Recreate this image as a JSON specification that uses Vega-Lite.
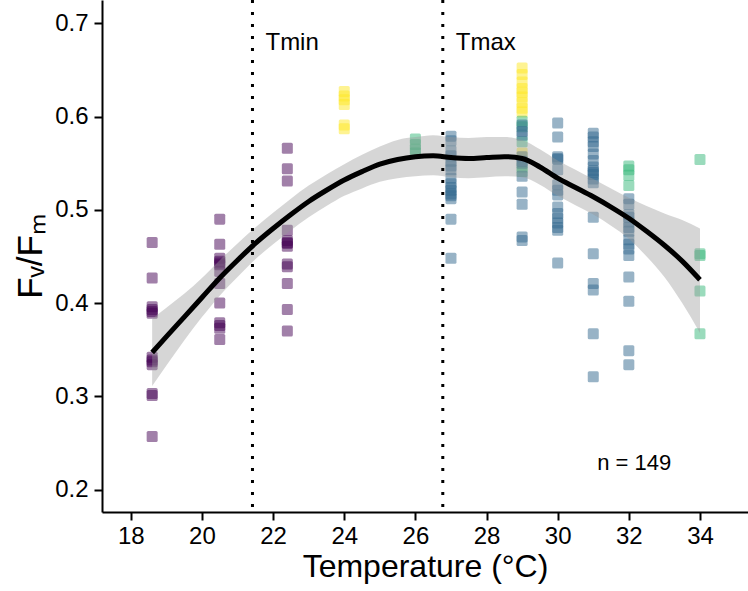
{
  "$schema": "https://vega.github.io/schema/vega-lite/v6.json",
  "width": 646,
  "height": 512,
  "autosize": "none",
  "padding": {"left": 102, "top": 0, "right": 0, "bottom": 79},
  "background": "white",
  "config": {
    "view": {"stroke": null},
    "font": "Liberation Sans",
    "axis": {
      "grid": false,
      "domainColor": "black",
      "domainWidth": 2,
      "tickColor": "black",
      "tickWidth": 2,
      "tickSize": 8,
      "labelColor": "black",
      "labelFont": "Liberation Sans",
      "labelFontSize": 24,
      "titleFont": "Liberation Sans",
      "titleFontSize": 32,
      "titleFontWeight": "normal",
      "titleColor": "black"
    }
  },
  "datasets": {
    "pts": [
      {"t": 18.6, "fvfm": 0.465, "g": "A"}, {"t": 18.6, "fvfm": 0.427, "g": "A"}, {"t": 18.6, "fvfm": 0.396, "g": "A"}, {"t": 18.6, "fvfm": 0.393, "g": "A"}, {"t": 18.6, "fvfm": 0.391, "g": "A"}, {"t": 18.6, "fvfm": 0.389, "g": "A"}, {"t": 18.6, "fvfm": 0.342, "g": "A"}, {"t": 18.6, "fvfm": 0.339, "g": "A"}, {"t": 18.6, "fvfm": 0.337, "g": "A"}, {"t": 18.6, "fvfm": 0.334, "g": "A"}, {"t": 18.6, "fvfm": 0.303, "g": "A"}, {"t": 18.6, "fvfm": 0.301, "g": "A"}, {"t": 18.6, "fvfm": 0.257, "g": "A"},
      {"t": 20.5, "fvfm": 0.490, "g": "A"}, {"t": 20.5, "fvfm": 0.463, "g": "A"}, {"t": 20.5, "fvfm": 0.448, "g": "A"}, {"t": 20.5, "fvfm": 0.445, "g": "A"}, {"t": 20.5, "fvfm": 0.443, "g": "A"}, {"t": 20.5, "fvfm": 0.441, "g": "A"}, {"t": 20.5, "fvfm": 0.434, "g": "A"}, {"t": 20.5, "fvfm": 0.421, "g": "A"}, {"t": 20.5, "fvfm": 0.400, "g": "A"}, {"t": 20.5, "fvfm": 0.379, "g": "A"}, {"t": 20.5, "fvfm": 0.376, "g": "A"}, {"t": 20.5, "fvfm": 0.373, "g": "A"}, {"t": 20.5, "fvfm": 0.361, "g": "A"},
      {"t": 22.4, "fvfm": 0.566, "g": "A"}, {"t": 22.4, "fvfm": 0.544, "g": "A"}, {"t": 22.4, "fvfm": 0.531, "g": "A"}, {"t": 22.4, "fvfm": 0.478, "g": "A"}, {"t": 22.4, "fvfm": 0.467, "g": "A"}, {"t": 22.4, "fvfm": 0.465, "g": "A"}, {"t": 22.4, "fvfm": 0.464, "g": "A"}, {"t": 22.4, "fvfm": 0.461, "g": "A"}, {"t": 22.4, "fvfm": 0.442, "g": "A"}, {"t": 22.4, "fvfm": 0.439, "g": "A"}, {"t": 22.4, "fvfm": 0.421, "g": "A"}, {"t": 22.4, "fvfm": 0.393, "g": "A"}, {"t": 22.4, "fvfm": 0.370, "g": "A"},
      {"t": 24, "fvfm": 0.627, "g": "D"}, {"t": 24, "fvfm": 0.622, "g": "D"}, {"t": 24, "fvfm": 0.618, "g": "D"}, {"t": 24, "fvfm": 0.613, "g": "D"}, {"t": 24, "fvfm": 0.591, "g": "D"}, {"t": 24, "fvfm": 0.587, "g": "D"},
      {"t": 26, "fvfm": 0.576, "g": "C"}, {"t": 26, "fvfm": 0.570, "g": "C"}, {"t": 26, "fvfm": 0.565, "g": "C"}, {"t": 26, "fvfm": 0.561, "g": "C"},
      {"t": 27, "fvfm": 0.579, "g": "B"}, {"t": 27, "fvfm": 0.574, "g": "B"}, {"t": 27, "fvfm": 0.563, "g": "B"}, {"t": 27, "fvfm": 0.558, "g": "B"}, {"t": 27, "fvfm": 0.552, "g": "B"}, {"t": 27, "fvfm": 0.547, "g": "B"}, {"t": 27, "fvfm": 0.543, "g": "B"}, {"t": 27, "fvfm": 0.534, "g": "B"}, {"t": 27, "fvfm": 0.528, "g": "B"}, {"t": 27, "fvfm": 0.524, "g": "B"}, {"t": 27, "fvfm": 0.521, "g": "B"}, {"t": 27, "fvfm": 0.517, "g": "B"}, {"t": 27, "fvfm": 0.515, "g": "B"}, {"t": 27, "fvfm": 0.512, "g": "B"}, {"t": 27, "fvfm": 0.490, "g": "B"}, {"t": 27, "fvfm": 0.448, "g": "B"},
      {"t": 29, "fvfm": 0.652, "g": "D"}, {"t": 29, "fvfm": 0.645, "g": "D"}, {"t": 29, "fvfm": 0.637, "g": "D"}, {"t": 29, "fvfm": 0.630, "g": "D"}, {"t": 29, "fvfm": 0.626, "g": "D"}, {"t": 29, "fvfm": 0.621, "g": "D"}, {"t": 29, "fvfm": 0.615, "g": "D"}, {"t": 29, "fvfm": 0.609, "g": "D"}, {"t": 29, "fvfm": 0.605, "g": "D"}, {"t": 29, "fvfm": 0.561, "g": "D"},
      {"t": 29, "fvfm": 0.595, "g": "C"}, {"t": 29, "fvfm": 0.589, "g": "C"}, {"t": 29, "fvfm": 0.573, "g": "C"}, {"t": 29, "fvfm": 0.546, "g": "C"}, {"t": 29, "fvfm": 0.541, "g": "C"},
      {"t": 29, "fvfm": 0.591, "g": "B"}, {"t": 29, "fvfm": 0.584, "g": "B"}, {"t": 29, "fvfm": 0.580, "g": "B"}, {"t": 29, "fvfm": 0.557, "g": "B"}, {"t": 29, "fvfm": 0.552, "g": "B"}, {"t": 29, "fvfm": 0.550, "g": "B"}, {"t": 29, "fvfm": 0.536, "g": "B"}, {"t": 29, "fvfm": 0.519, "g": "B"}, {"t": 29, "fvfm": 0.506, "g": "B"}, {"t": 29, "fvfm": 0.471, "g": "B"}, {"t": 29, "fvfm": 0.467, "g": "B"},
      {"t": 30, "fvfm": 0.593, "g": "B"}, {"t": 30, "fvfm": 0.578, "g": "B"}, {"t": 30, "fvfm": 0.557, "g": "B"}, {"t": 30, "fvfm": 0.555, "g": "B"}, {"t": 30, "fvfm": 0.554, "g": "B"}, {"t": 30, "fvfm": 0.543, "g": "B"}, {"t": 30, "fvfm": 0.527, "g": "B"}, {"t": 30, "fvfm": 0.521, "g": "B"}, {"t": 30, "fvfm": 0.516, "g": "B"}, {"t": 30, "fvfm": 0.503, "g": "B"}, {"t": 30, "fvfm": 0.496, "g": "B"}, {"t": 30, "fvfm": 0.491, "g": "B"}, {"t": 30, "fvfm": 0.486, "g": "B"}, {"t": 30, "fvfm": 0.481, "g": "B"}, {"t": 30, "fvfm": 0.478, "g": "B"}, {"t": 30, "fvfm": 0.443, "g": "B"},
      {"t": 31, "fvfm": 0.582, "g": "B"}, {"t": 31, "fvfm": 0.578, "g": "B"}, {"t": 31, "fvfm": 0.573, "g": "B"}, {"t": 31, "fvfm": 0.568, "g": "B"}, {"t": 31, "fvfm": 0.560, "g": "B"}, {"t": 31, "fvfm": 0.553, "g": "B"}, {"t": 31, "fvfm": 0.546, "g": "B"}, {"t": 31, "fvfm": 0.542, "g": "B"}, {"t": 31, "fvfm": 0.540, "g": "B"}, {"t": 31, "fvfm": 0.538, "g": "B"}, {"t": 31, "fvfm": 0.533, "g": "B"}, {"t": 31, "fvfm": 0.529, "g": "B"}, {"t": 31, "fvfm": 0.492, "g": "B"}, {"t": 31, "fvfm": 0.453, "g": "B"}, {"t": 31, "fvfm": 0.421, "g": "B"}, {"t": 31, "fvfm": 0.414, "g": "B"}, {"t": 31, "fvfm": 0.367, "g": "B"}, {"t": 31, "fvfm": 0.321, "g": "B"},
      {"t": 32, "fvfm": 0.547, "g": "C"}, {"t": 32, "fvfm": 0.543, "g": "C"}, {"t": 32, "fvfm": 0.537, "g": "C"}, {"t": 32, "fvfm": 0.526, "g": "C"},
      {"t": 32, "fvfm": 0.512, "g": "B"}, {"t": 32, "fvfm": 0.506, "g": "B"}, {"t": 32, "fvfm": 0.495, "g": "B"}, {"t": 32, "fvfm": 0.492, "g": "B"}, {"t": 32, "fvfm": 0.487, "g": "B"}, {"t": 32, "fvfm": 0.481, "g": "B"}, {"t": 32, "fvfm": 0.477, "g": "B"}, {"t": 32, "fvfm": 0.468, "g": "B"}, {"t": 32, "fvfm": 0.463, "g": "B"}, {"t": 32, "fvfm": 0.458, "g": "B"}, {"t": 32, "fvfm": 0.451, "g": "B"}, {"t": 32, "fvfm": 0.428, "g": "B"}, {"t": 32, "fvfm": 0.402, "g": "B"}, {"t": 32, "fvfm": 0.349, "g": "B"}, {"t": 32, "fvfm": 0.334, "g": "B"},
      {"t": 34, "fvfm": 0.554, "g": "C"}, {"t": 34, "fvfm": 0.453, "g": "C"}, {"t": 34, "fvfm": 0.451, "g": "C"}, {"t": 34, "fvfm": 0.413, "g": "C"}, {"t": 34, "fvfm": 0.367, "g": "C"}
    ],
    "fit": [
      {"t": 18.6, "fit": 0.347, "lo": 0.311, "hi": 0.383},
      {"t": 19.0, "fit": 0.364, "lo": 0.333, "hi": 0.395},
      {"t": 19.5, "fit": 0.385, "lo": 0.360, "hi": 0.410},
      {"t": 20.0, "fit": 0.406, "lo": 0.385, "hi": 0.427},
      {"t": 20.5, "fit": 0.427, "lo": 0.408, "hi": 0.446},
      {"t": 21.0, "fit": 0.446, "lo": 0.428, "hi": 0.464},
      {"t": 21.5, "fit": 0.464, "lo": 0.447, "hi": 0.481},
      {"t": 22.0, "fit": 0.480, "lo": 0.463, "hi": 0.497},
      {"t": 22.5, "fit": 0.495, "lo": 0.478, "hi": 0.512},
      {"t": 23.0, "fit": 0.509, "lo": 0.492, "hi": 0.526},
      {"t": 23.5, "fit": 0.521, "lo": 0.504, "hi": 0.538},
      {"t": 24.0, "fit": 0.532, "lo": 0.515, "hi": 0.549},
      {"t": 24.5, "fit": 0.541, "lo": 0.523, "hi": 0.559},
      {"t": 25.0, "fit": 0.549, "lo": 0.530, "hi": 0.568},
      {"t": 25.5, "fit": 0.554, "lo": 0.534, "hi": 0.575},
      {"t": 26.0, "fit": 0.557, "lo": 0.536, "hi": 0.578},
      {"t": 26.5, "fit": 0.558, "lo": 0.537, "hi": 0.580},
      {"t": 27.0, "fit": 0.556, "lo": 0.535, "hi": 0.578},
      {"t": 27.5, "fit": 0.555, "lo": 0.534, "hi": 0.577},
      {"t": 28.0, "fit": 0.556, "lo": 0.535, "hi": 0.578},
      {"t": 28.5, "fit": 0.557, "lo": 0.536, "hi": 0.578},
      {"t": 29.0, "fit": 0.555, "lo": 0.535, "hi": 0.575},
      {"t": 29.5, "fit": 0.546, "lo": 0.527, "hi": 0.565},
      {"t": 30.0, "fit": 0.534, "lo": 0.515, "hi": 0.553},
      {"t": 30.5, "fit": 0.524, "lo": 0.505, "hi": 0.543},
      {"t": 31.0, "fit": 0.514, "lo": 0.495, "hi": 0.533},
      {"t": 31.5, "fit": 0.503, "lo": 0.483, "hi": 0.523},
      {"t": 32.0, "fit": 0.491, "lo": 0.469, "hi": 0.513},
      {"t": 32.5, "fit": 0.477, "lo": 0.450, "hi": 0.504},
      {"t": 33.0, "fit": 0.462, "lo": 0.428, "hi": 0.496},
      {"t": 33.5, "fit": 0.445, "lo": 0.400, "hi": 0.489},
      {"t": 34.0, "fit": 0.425, "lo": 0.368, "hi": 0.480}
    ],
    "thr": [
      {"t": 21.42, "label": "Tmin"},
      {"t": 26.77, "label": "Tmax"}
    ],
    "note": [
      {"t": 32.15, "v": 0.221, "label": "n = 149"}
    ]
  },
  "layer": [
    {
      "data": {"name": "pts"},
      "mark": {
        "type": "point",
        "filled": true,
        "opacity": 0.5,
        "size": 121,
        "strokeWidth": 0,
        "shape": "M -0.72 -1 L 0.72 -1 Q 1 -1 1 -0.72 L 1 0.72 Q 1 1 0.72 1 L -0.72 1 Q -1 1 -1 0.72 L -1 -0.72 Q -1 -1 -0.72 -1 Z"
      },
      "encoding": {
        "x": {
          "field": "t", "type": "quantitative",
          "scale": {"domain": [17.19, 35.35], "nice": false, "zero": false},
          "axis": {"values": [18, 20, 22, 24, 26, 28, 30, 32, 34], "title": "Temperature (°C)", "labelPadding": 4, "titlePadding": 3}
        },
        "y": {
          "field": "fvfm", "type": "quantitative",
          "scale": {"domain": [0.176, 0.725], "nice": false, "zero": false},
          "axis": {"values": [0.2, 0.3, 0.4, 0.5, 0.6, 0.7], "format": ".1f", "title": "Fᵥ/Fₘ", "titleFontSize": 35, "labelPadding": 6, "titlePadding": 6}
        },
        "color": {
          "field": "g", "type": "nominal",
          "scale": {"domain": ["A", "B", "C", "D"], "range": ["#440154", "#31688E", "#35B779", "#FDE725"]},
          "legend": null
        }
      }
    },
    {
      "data": {"name": "fit"},
      "mark": {"type": "area", "color": "#999999", "opacity": 0.4, "interpolate": "monotone"},
      "encoding": {
        "x": {"field": "t", "type": "quantitative"},
        "y": {"field": "lo", "type": "quantitative"},
        "y2": {"field": "hi"}
      }
    },
    {
      "data": {"name": "fit"},
      "mark": {"type": "line", "color": "black", "strokeWidth": 5, "interpolate": "monotone"},
      "encoding": {
        "x": {"field": "t", "type": "quantitative"},
        "y": {"field": "fit", "type": "quantitative"}
      }
    },
    {
      "data": {"name": "thr"},
      "mark": {"type": "rule", "color": "black", "strokeWidth": 3, "strokeDash": [3, 9]},
      "encoding": {
        "x": {"field": "t", "type": "quantitative"}
      }
    },
    {
      "data": {"name": "thr"},
      "mark": {"type": "text", "align": "left", "baseline": "alphabetic", "dx": 13, "fontSize": 24, "font": "Liberation Sans", "color": "black"},
      "encoding": {
        "x": {"field": "t", "type": "quantitative"},
        "y": {"datum": 0.671},
        "text": {"field": "label"}
      }
    },
    {
      "data": {"name": "note"},
      "mark": {"type": "text", "align": "center", "baseline": "alphabetic", "fontSize": 22, "font": "Liberation Sans", "color": "black"},
      "encoding": {
        "x": {"field": "t", "type": "quantitative"},
        "y": {"field": "v", "type": "quantitative"},
        "text": {"field": "label"}
      }
    }
  ]
}
